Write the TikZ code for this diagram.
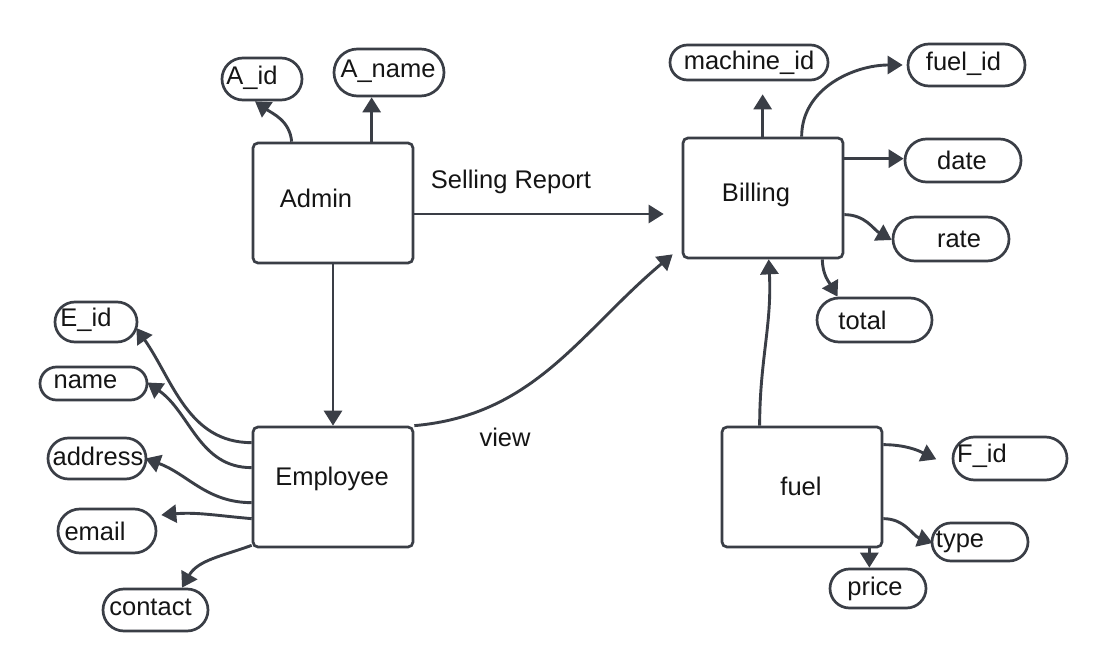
\documentclass[tikz,border=0pt]{standalone}
\usepackage{fontspec}
\setmainfont{Liberation Sans}
\usetikzlibrary{arrows.meta,shapes.misc}
\definecolor{lc}{HTML}{3A3E46}
\definecolor{tc}{HTML}{151515}
\tikzset{
  entity/.style={draw=lc, line width=2.7pt, rounded corners=5pt, minimum width=160pt, minimum height=120pt, inner sep=0pt, fill=white},
  attr/.style={draw=lc, line width=2.7pt, rounded rectangle, inner sep=0pt, fill=white},
  lbl/.style={text=tc, font=\fontsize{25.5}{30}\selectfont},
  every label/.style={lbl},
  arr/.style={draw=lc, line width=2.9pt, -{Triangle[length=15pt,width=18pt]}},
}
\begin{document}
\begin{tikzpicture}[x=1pt,y=-1pt]
\useasboundingbox[fill=white] (0,0) rectangle (1108,671);

% entities
\node[entity, label={[xshift=-17pt,yshift=5pt]center:Admin}] (admin) at (333,203) {};
\node[entity, label={[xshift=-7pt,yshift=3pt]center:Billing}] (billing) at (763,198) {};
\node[entity, label={[xshift=-1pt,yshift=8pt]center:Employee}] (employee) at (333,487) {};
\node[entity, label={[xshift=-1pt,yshift=1pt]center:fuel}] (fuel) at (802,487) {};

% attributes
\node[attr, minimum width=80pt, minimum height=42pt, label={[xshift=-10pt,yshift=1pt]center:A\_id}] (aid) at (262,79) {};
\node[attr, minimum width=110pt, minimum height=47pt, label={[xshift=-1pt,yshift=1pt]center:A\_name}] (aname) at (389,72.5) {};
\node[attr, minimum width=158pt, minimum height=35pt, label={[yshift=0pt]center:machine\_id}] (machine) at (749,62.5) {};
\node[attr, minimum width=117pt, minimum height=42pt, label={[xshift=-3pt,yshift=1pt]center:fuel\_id}] (fuelid) at (966.5,65) {};
\node[attr, minimum width=116pt, minimum height=43pt, label={[xshift=-1pt]center:date}] (date) at (963,160.5) {};
\node[attr, minimum width=116pt, minimum height=44pt, label={[xshift=8pt]center:rate}] (rate) at (951,239) {};
\node[attr, minimum width=115pt, minimum height=44pt, label={[xshift=-12pt]center:total}] (total) at (874.5,320) {};
\node[attr, minimum width=82pt, minimum height=40pt, label={[xshift=-10pt,yshift=2pt]center:E\_id}] (eid) at (96,322) {};
\node[attr, minimum width=107pt, minimum height=33pt, label={[xshift=-8pt,yshift=2pt]center:name}] (name) at (93.5,383.5) {};
\node[attr, minimum width=98pt, minimum height=41pt, label={[xshift=1pt,yshift=2pt]center:address}] (address) at (97,458.5) {};
\node[attr, minimum width=98pt, minimum height=44pt, label={[xshift=-12pt]center:email}] (email) at (107,531) {};
\node[attr, minimum width=105pt, minimum height=42pt, label={[xshift=-5pt,yshift=3pt]center:contact}] (contact) at (155.5,610) {};
\node[attr, minimum width=114pt, minimum height=43pt, label={[xshift=-28pt,yshift=3pt]center:F\_id}] (fid) at (1010,458.5) {};
\node[attr, minimum width=96pt, minimum height=38pt, label={[xshift=-20pt]center:type}] (type) at (980,542) {};
\node[attr, minimum width=96pt, minimum height=39pt, label={[xshift=-3pt]center:price}] (price) at (878,588.5) {};

% free labels
\node[lbl] (selling) at (511,182) {Selling Report};
\node[lbl] (view) at (505,437) {view};

% helper coordinates
\coordinate (an) at ([xshift=120pt]admin.north west);
\coordinate (sr) at ([yshift=-11pt]admin.east);
\coordinate (bm) at ([xshift=81pt]billing.north west);
\coordinate (bd) at ([yshift=-22pt]billing.north east);
\coordinate (fp) at ([xshift=-14pt]fuel.south east);

% Admin
\draw[arr] ([xshift=40pt]admin.north west) to[out=95,in=-35] ([xshift=-7pt]aid.south);
\draw[arr] (an) -- (an |- aname.south);
\draw[arr, shorten >=18pt] (sr) -- (sr -| billing.west);
\draw[arr] (admin.south) -- (employee.north);

% Employee
\draw[arr] (employee.north east) to[out=5,in=-140] ([xshift=-9pt,yshift=5pt]billing.south west);
\draw[arr] ([yshift=-17pt]employee.north west) to[out=180,in=-55] ([xshift=-2pt,yshift=-6pt]eid.east);
\draw[arr] ([yshift=-42pt]employee.north west) to[out=180,in=-35] ([xshift=-1pt,yshift=1pt]name.east);
\draw[arr] ([yshift=-77pt]employee.north west) to[out=180,in=-20] ([xshift=-2pt]address.east);
\draw[arr] ([yshift=-93pt]employee.north west) to[out=175,in=5] ([xshift=4pt,yshift=16pt]email.east);
\draw[arr] ([yshift=3pt]employee.south west) to[out=200,in=60] ([xshift=-5pt]contact.north east);

% Billing
\draw[arr, shorten >=13pt] (bm) -- (bm |- machine.south);
\draw[arr] ([xshift=120pt]billing.north west) to[out=90,in=180] ([xshift=-4pt]fuelid.west);
\draw[arr] (bd) -- (bd -| date.west);
\draw[arr] ([yshift=-78pt]billing.north east) to[out=0,in=150] ([yshift=-1pt]rate.west);
\draw[arr] ([xshift=-22pt]billing.south east) to[out=-90,in=120] ([xshift=-37pt]total.north);

% fuel
\draw[arr] ([xshift=39pt]fuel.north west) to[out=90,in=-87] ([xshift=87pt]billing.south west);
\draw[arr, shorten >=17pt] ([yshift=-19pt]fuel.north east) to[out=0,in=155] ([yshift=-8pt]fid.west);
\draw[arr] ([yshift=-93pt]fuel.north east) to[out=0,in=160] ([xshift=2pt,yshift=-1pt]type.west);
\draw[arr] (fp) -- (fp |- price.north);
\end{tikzpicture}
\end{document}
